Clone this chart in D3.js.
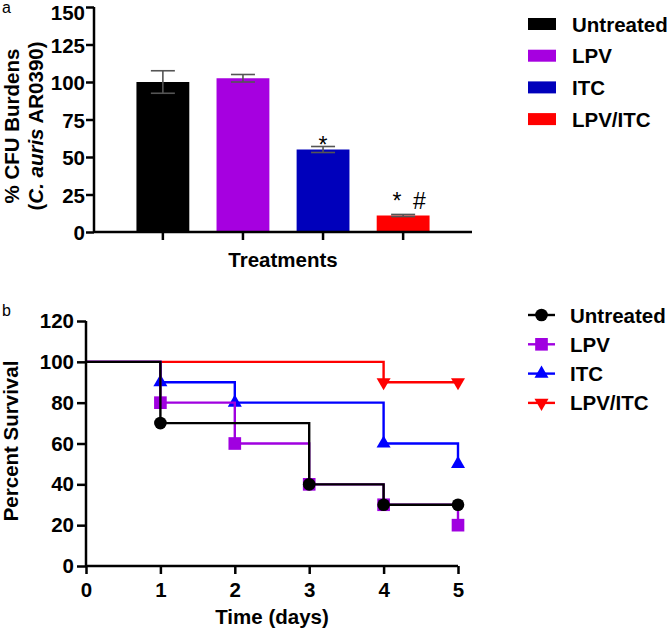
<!DOCTYPE html>
<html>
<head>
<meta charset="utf-8">
<script src="https://cdn.jsdelivr.net/npm/d3@7"></script>
<style>
  body { margin: 0; background: #fff; }
  text { font-family: "Liberation Sans", Arial, sans-serif; }
</style>
</head>
<body>
<script>
// panel a data
var treatments = ["Untreated", "LPV", "ITC", "LPV/ITC"];
var cfuMean    = [100, 102.5, 55, 11];
var cfuErr     = [7.5, 2.5, 2, 0.7];
var cfuMarks   = ["", "", "*", "*\u2002#"];
var barColors  = ["#000000", "#a600e0", "#0000bb", "#ff0000"];

// panel b data (survival, percent) at days 0..5
var days = [0, 1, 2, 3, 4, 5];
var survUntreated = [100, 70, 70, 40, 30, 30];
var survLPV       = [100, 80, 60, 40, 30, 20];
var survITC       = [100, 90, 80, 80, 60, 50];
var survCombo     = [100, 100, 100, 100, 90, 90];
// days where a marker is drawn
var markUntreated = [1, 3, 4, 5];
var markLPV       = [1, 2, 3, 4, 5];
var markITC       = [1, 2, 4, 5];
var markCombo     = [4, 5];
var lineColors = ["#000000", "#a000e0", "#0000ff", "#ff0000"];
var symbols = [d3.symbolCircle, d3.symbolSquare, d3.symbolTriangle, d3.symbolTriangle];

var FS = 20.5;

var svg = d3.select("body").append("svg")
    .attr("width", 669)
    .attr("height", 629);

function styleAxis(ax) {
    ax.select(".domain").attr("stroke-width", 2.5);
    ax.selectAll(".tick line").attr("stroke-width", 2.5);
    ax.selectAll("text").attr("font-size", FS).attr("font-weight", "bold").attr("fill", "#000")
        .style("font-family", "Liberation Sans, Arial, sans-serif");
}

// ---------- panel a ----------
var ya = d3.scaleLinear().domain([0, 150]).range([232, 7]);
var xa = d3.scaleBand().domain(treatments).range([94, 472]).paddingInner(0.34).paddingOuter(0.53);

var ga = svg.append("g");

ga.selectAll("rect.bar")
    .data(treatments)
    .enter()
    .append("rect")
    .attr("class", "bar")
    .attr("x", function (d) { return xa(d); })
    .attr("width", xa.bandwidth())
    .attr("y", function (d, i) { return ya(cfuMean[i]); })
    .attr("height", function (d, i) { return ya(0) - ya(cfuMean[i]); })
    .attr("fill", function (d, i) { return barColors[i]; });

var err = ga.selectAll("g.err")
    .data(treatments)
    .enter()
    .append("g")
    .attr("class", "err")
    .attr("stroke", "#555")
    .attr("stroke-width", 1.6);
err.append("line")
    .attr("x1", function (d) { return xa(d) + xa.bandwidth() / 2; })
    .attr("x2", function (d) { return xa(d) + xa.bandwidth() / 2; })
    .attr("y1", function (d, i) { return ya(cfuMean[i] + cfuErr[i]); })
    .attr("y2", function (d, i) { return ya(cfuMean[i] - cfuErr[i]); });
[1, -1].forEach(function (s) {
    err.append("line")
        .attr("x1", function (d) { return xa(d) + xa.bandwidth() / 2 - 12; })
        .attr("x2", function (d) { return xa(d) + xa.bandwidth() / 2 + 12; })
        .attr("y1", function (d, i) { return ya(cfuMean[i] + s * cfuErr[i]); })
        .attr("y2", function (d, i) { return ya(cfuMean[i] + s * cfuErr[i]); });
});

ga.selectAll("text.mark")
    .data(treatments)
    .enter()
    .append("text")
    .attr("class", "mark")
    .attr("x", function (d, i) { return xa(d) + xa.bandwidth() / 2 + (i === 3 ? 6 : 0); })
    .attr("y", function (d, i) { return ya(cfuMean[i] + cfuErr[i]) + (i === 3 ? -5 : 6); })
    .attr("text-anchor", "middle")
    .attr("font-size", 23)
    .text(function (d, i) { return cfuMarks[i]; });

var yAxisA = ga.append("g")
    .attr("transform", "translate(94,0)")
    .call(d3.axisLeft(ya).tickValues([0, 25, 50, 75, 100, 125, 150]).tickSize(8).tickPadding(1));
var xAxisA = ga.append("g")
    .attr("transform", "translate(0,232)")
    .call(d3.axisBottom(xa).tickSize(8).tickFormat(""));
styleAxis(yAxisA);
styleAxis(xAxisA);
xAxisA.select(".domain").attr("d", "M94,0H472");
yAxisA.select(".domain").attr("d", "M0,7V232");
yAxisA.selectAll(".tick text").attr("dy", function (d) { return d === 150 ? "0.6em" : "0.38em"; });

ga.append("text")
    .attr("x", 283).attr("y", 267)
    .attr("text-anchor", "middle")
    .attr("font-size", FS).attr("font-weight", "bold")
    .text("Treatments");

var ytA = ga.append("text")
    .attr("transform", "translate(19,126) rotate(-90)")
    .attr("text-anchor", "middle")
    .attr("font-size", FS).attr("font-weight", "bold");
ytA.append("tspan").attr("x", 0).attr("dy", 0).text("% CFU Burdens");
var l2 = ytA.append("tspan").attr("x", 0).attr("dy", 24);
l2.append("tspan").text("(");
l2.append("tspan").attr("font-style", "italic").text("C. auris");
l2.append("tspan").text(" AR0390)");

ga.append("text").attr("x", 2).attr("y", 13).attr("font-size", 16).text("a");

var legA = ga.selectAll("g.lega")
    .data(treatments)
    .enter()
    .append("g")
    .attr("class", "lega")
    .attr("transform", function (d, i) { return "translate(528," + (24 + i * 31.7) + ")"; });
legA.append("rect")
    .attr("x", 0).attr("y", -6).attr("width", 28).attr("height", 12)
    .attr("fill", function (d, i) { return barColors[i]; });
legA.append("text")
    .attr("x", 44).attr("y", 7.5)
    .attr("font-size", FS).attr("font-weight", "bold")
    .text(function (d) { return d; });

// ---------- panel b ----------
var xb = d3.scaleLinear().domain([0, 5]).range([86, 458]);
var yb = d3.scaleLinear().domain([0, 120]).range([566, 321]);

var gb = svg.append("g");

var series = [
    { name: "Untreated", vals: survUntreated, marks: markUntreated },
    { name: "LPV", vals: survLPV, marks: markLPV },
    { name: "ITC", vals: survITC, marks: markITC },
    { name: "LPV/ITC", vals: survCombo, marks: markCombo }
];
series.forEach(function (s, i) { s.color = lineColors[i]; s.sym = symbols[i]; s.idx = i; });

var step = d3.line()
    .x(function (d) { return xb(d[0]); })
    .y(function (d) { return yb(d[1]); })
    .curve(d3.curveStepAfter);

var symSizes = [125, 160, 85, 85];
function symbolFor(s) {
    return d3.symbol().type(s.sym).size(symSizes[s.idx])();
}

// draw in reverse order so Untreated sits on top
var drawOrder = series.slice().reverse();
var sg = gb.selectAll("g.series")
    .data(drawOrder)
    .enter()
    .append("g")
    .attr("class", "series");
sg.append("path")
    .attr("d", function (s) { return step(days.map(function (d, j) { return [d, s.vals[j]]; })); })
    .attr("fill", "none")
    .attr("stroke", function (s) { return s.color; })
    .attr("stroke-width", 2.4);
sg.each(function (s) {
    d3.select(this).selectAll("path.sym")
        .data(s.marks)
        .enter()
        .append("path")
        .attr("class", "sym")
        .attr("d", symbolFor(s))
        .attr("fill", s.color)
        .attr("transform", function (d) {
            var rot = s.idx === 3 ? " rotate(180)" : "";
            return "translate(" + xb(d) + "," + yb(s.vals[days.indexOf(d)]) + ")" + rot;
        });
});

var yAxisB = gb.append("g")
    .attr("transform", "translate(86,0)")
    .call(d3.axisLeft(yb).tickValues([0, 20, 40, 60, 80, 100, 120]).tickSize(9).tickPadding(3));
var xAxisB = gb.append("g")
    .attr("transform", "translate(0,566)")
    .call(d3.axisBottom(xb).tickValues(days).tickFormat(d3.format("d")).tickSize(8).tickPadding(8));
styleAxis(yAxisB);
styleAxis(xAxisB);
xAxisB.select(".domain").attr("d", "M86,0H458");
yAxisB.select(".domain").attr("d", "M0,321V566");

gb.append("text")
    .attr("x", 272).attr("y", 624)
    .attr("text-anchor", "middle")
    .attr("font-size", FS).attr("font-weight", "bold")
    .text("Time (days)");
gb.append("text")
    .attr("transform", "translate(18,441) rotate(-90)")
    .attr("text-anchor", "middle")
    .attr("font-size", FS).attr("font-weight", "bold")
    .text("Percent Survival");
gb.append("text").attr("x", 2).attr("y", 316).attr("font-size", 16).text("b");

var legB = gb.selectAll("g.legb")
    .data(series)
    .enter()
    .append("g")
    .attr("class", "legb")
    .attr("transform", function (d, i) { return "translate(528," + (315 + i * 29.3) + ")"; });
legB.append("line")
    .attr("x1", 0).attr("x2", 27)
    .attr("stroke", function (s) { return s.color; })
    .attr("stroke-width", 2.4);
legB.append("path")
    .attr("d", function (s) { return symbolFor(s); })
    .attr("fill", function (s) { return s.color; })
    .attr("transform", function (s) { return "translate(13.5,0)" + (s.idx === 3 ? " rotate(180)" : ""); });
legB.append("text")
    .attr("x", 42).attr("y", 7.5)
    .attr("font-size", FS).attr("font-weight", "bold")
    .text(function (s) { return s.name; });
</script>
</body>
</html>
